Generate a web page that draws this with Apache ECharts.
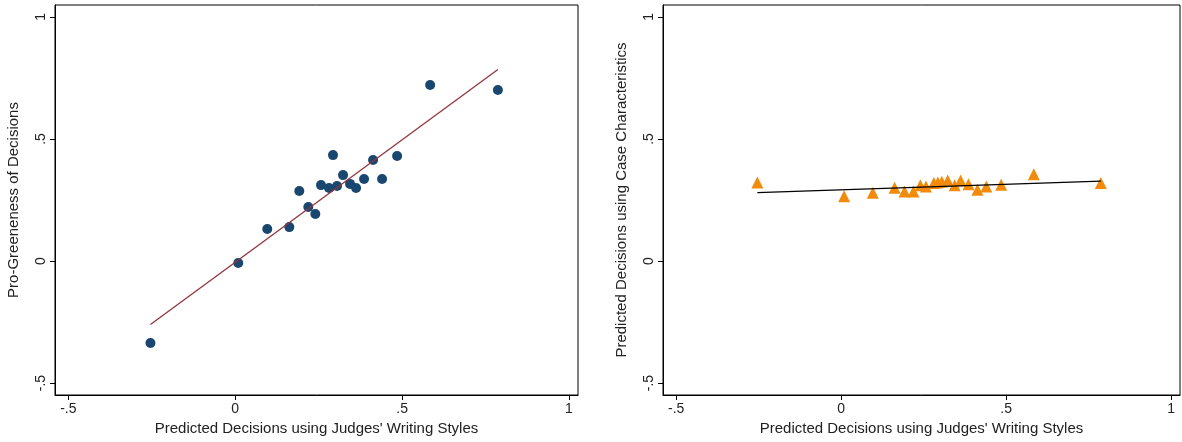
<!DOCTYPE html>
<html lang="en">
<head>
<meta charset="UTF-8">
<title>Writing styles</title>
<script src="https://cdn.jsdelivr.net/npm/echarts@6/dist/echarts.min.js"></script>
<style>
  * { margin: 0; padding: 0; }
  html, body { width: 100%; height: 100%; overflow: hidden; background: #fff; }
  #chart { width: 1182px; height: 442px; }
</style>
</head>
<body>
<div id="chart"></div>
<script>
  // predicted decisions using judges' writing styles (x, shared)
  let styleX = [-0.254, 0.009, 0.096, 0.162, 0.192, 0.219, 0.240, 0.257, 0.281, 0.293,
                0.305, 0.323, 0.344, 0.362, 0.386, 0.413, 0.440, 0.485, 0.584, 0.787];
  // pro-greeneness of decisions
  let greenY = [-0.336, -0.008, 0.131, 0.139, 0.287, 0.221, 0.193, 0.311, 0.299, 0.434,
                0.307, 0.352, 0.316, 0.299, 0.336, 0.414, 0.336, 0.430, 0.721, 0.701];
  // predicted decisions using case characteristics
  let caseY = [0.322, 0.265, 0.280, 0.300, 0.285, 0.285, 0.310, 0.305, 0.320, 0.322,
               0.325, 0.330, 0.310, 0.330, 0.315, 0.292, 0.305, 0.312, 0.355, 0.320];
  // fitted line endpoints
  let greenFit = [[-0.254, -0.260], [0.787, 0.785]];
  let caseFit = [[-0.254, 0.280], [0.787, 0.327]];
  let ticks = [-0.5, 0, 0.5, 1];

  let pairs = (xs, ys) => xs.map((x, i) => [x, ys[i]]);
  let fmt = v => v === 0 ? '0' : (v === 1 ? '1' : (v < 0 ? '-.5' : '.5'));
  let font = 'Liberation Sans';

  function xAxis(idx) {
    return {
      gridIndex: idx, type: 'value', min: -0.54, max: 1.027,
      name: "Predicted Decisions using Judges' Writing Styles",
      nameLocation: 'middle', nameGap: 26,
      nameTextStyle: { fontFamily: font, fontSize: 15, color: '#222' },
      axisLine: { show: true, onZero: false, lineStyle: { color: '#000' } },
      axisTick: { show: true, customValues: ticks, length: 5, lineStyle: { color: '#000' } },
      axisLabel: { customValues: ticks, formatter: fmt, fontFamily: font, fontSize: 14, color: '#222', margin: 7 },
      splitLine: { show: false }
    };
  }
  function yAxis(idx, name) {
    return {
      gridIndex: idx, type: 'value', min: -0.549, max: 1.049,
      name, nameLocation: 'middle', nameGap: 34,
      nameTextStyle: { fontFamily: font, fontSize: 15, color: '#222' },
      axisLine: { show: true, onZero: false, lineStyle: { color: '#000' } },
      axisTick: { show: true, customValues: ticks, length: 5, lineStyle: { color: '#000' } },
      axisLabel: { customValues: ticks, formatter: fmt, rotate: 90, fontFamily: font, fontSize: 14, color: '#222', margin: 7 },
      splitLine: { show: false }
    };
  }

  let chart = echarts.init(document.getElementById('chart'));
  chart.setOption({
    animation: false,
    grid: [
      { left: 55, top: 5, width: 523, height: 390, show: true, borderColor: '#000', borderWidth: 1 },
      { left: 663, top: 5, width: 517, height: 390, show: true, borderColor: '#000', borderWidth: 1 }
    ],
    xAxis: [xAxis(0), xAxis(1)],
    yAxis: [yAxis(0, 'Pro-Greeneness of Decisions'), yAxis(1, 'Predicted Decisions using Case Characteristics')],
    series: [
      { type: 'scatter', xAxisIndex: 0, yAxisIndex: 0, data: pairs(styleX, greenY),
        symbol: 'circle', symbolSize: 10, itemStyle: { color: '#1a476f', opacity: 1 } },
      { type: 'line', xAxisIndex: 0, yAxisIndex: 0, data: greenFit, symbol: 'none',
        lineStyle: { color: '#90353b', width: 1.3 } },
      { type: 'scatter', xAxisIndex: 1, yAxisIndex: 1, data: pairs(styleX, caseY),
        symbol: 'triangle', symbolSize: 12, itemStyle: { color: '#f28b0c', opacity: 1 } },
      { type: 'line', xAxisIndex: 1, yAxisIndex: 1, data: caseFit, symbol: 'none',
        lineStyle: { color: '#000', width: 1.3 } }
    ]
  });
</script>
</body>
</html>
